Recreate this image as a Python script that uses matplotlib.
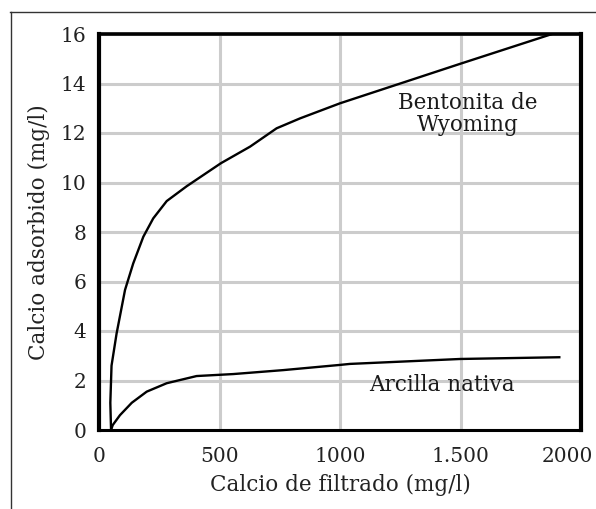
import matplotlib
matplotlib.use("Agg")
import matplotlib.pyplot as plt
from matplotlib.lines import Line2D
from matplotlib.transforms import ScaledTranslation

# Data
bent_x = [50, 47, 52, 73, 108, 142, 184, 225, 281, 364, 506, 627, 737, 834, 1000, 1500, 1880]
bent_y = [0, 1.1, 2.6, 3.9, 5.66, 6.73, 7.81, 8.55, 9.25, 9.85, 10.78, 11.45, 12.19, 12.59, 13.2, 14.8, 16.0]
arc_x = [50, 57, 87, 136, 198, 281, 405, 557, 765, 1000, 1041, 1500, 1910]
arc_y = [0, 0.2, 0.6, 1.1, 1.55, 1.89, 2.18, 2.26, 2.42, 2.63, 2.67, 2.87, 2.94]
x_ticks = [0, 500, 1000, 1500, 2000]
x_tick_labels = ["0", "500", "1000", "1.500", "2000"]
y_ticks = [0, 2, 4, 6, 8, 10, 12, 14, 16]
label_bent = "Bentonita de\nWyoming"
label_arc = "Arcilla nativa"
xlabel = "Calcio de filtrado (mg/l)"
ylabel = "Calcio adsorbido (mg/l)"

plt.rcParams['font.family'] = ['DejaVu Serif']
W, H = 596, 509
fig = plt.figure(figsize=(W / 100, H / 100), dpi=100)
fig.patch.set_facecolor('white')

L, R, T, B = 99, 581, 34, 430
ax = fig.add_axes([L / W, 1 - B / H, (R - L) / W, (B - T) / H])
ax.set_xlim(0, 2000)
ax.set_ylim(0, 16)

ax.set_xticks(x_ticks)
ax.set_xticklabels(x_tick_labels)
ax.set_yticks(y_ticks)
ax.tick_params(axis='both', length=0, labelsize=14.5, colors='#222222')
ax.tick_params(axis='x', pad=12)
ax.tick_params(axis='y', pad=9)
# shift last x label slightly left as in reference
lbls = ax.get_xticklabels()
lbls[-1].set_transform(lbls[-1].get_transform() + ScaledTranslation(-14 / 100, 0, fig.dpi_scale_trans))

ax.grid(True, color='#cccccc', linewidth=2.2)
ax.set_axisbelow(True)

ax.spines['left'].set_linewidth(3.0)
ax.spines['top'].set_linewidth(2.6)
ax.spines['right'].set_linewidth(3.0)
ax.spines['bottom'].set_linewidth(2.2)
for s in ax.spines.values():
    s.set_color('black')

ax.plot(bent_x, bent_y, color='black', linewidth=1.7, solid_joinstyle='round')
ax.plot(arc_x, arc_y, color='black', linewidth=1.7, solid_joinstyle='round')

ax.text(1531, 12.75, label_bent, ha='center', va='center', fontsize=15.5,
        color='#1a1a1a', linespacing=1.0)
ax.text(1421, 1.8, label_arc, ha='center', va='center', fontsize=15.5, color='#1a1a1a')

ax.set_xlabel(xlabel, fontsize=15.5, color='#222222', labelpad=6)
ax.set_ylabel(ylabel, fontsize=15.5, color='#222222', labelpad=8)

# outer partial frame
fig.add_artist(Line2D([10 / W, 1], [1 - 12 / H, 1 - 12 / H], color='#333333', linewidth=1.0))
fig.add_artist(Line2D([11 / W, 11 / W], [1 - 12 / H, 0], color='#333333', linewidth=1.0))

fig.savefig("out.png", dpi=100, facecolor='white')
